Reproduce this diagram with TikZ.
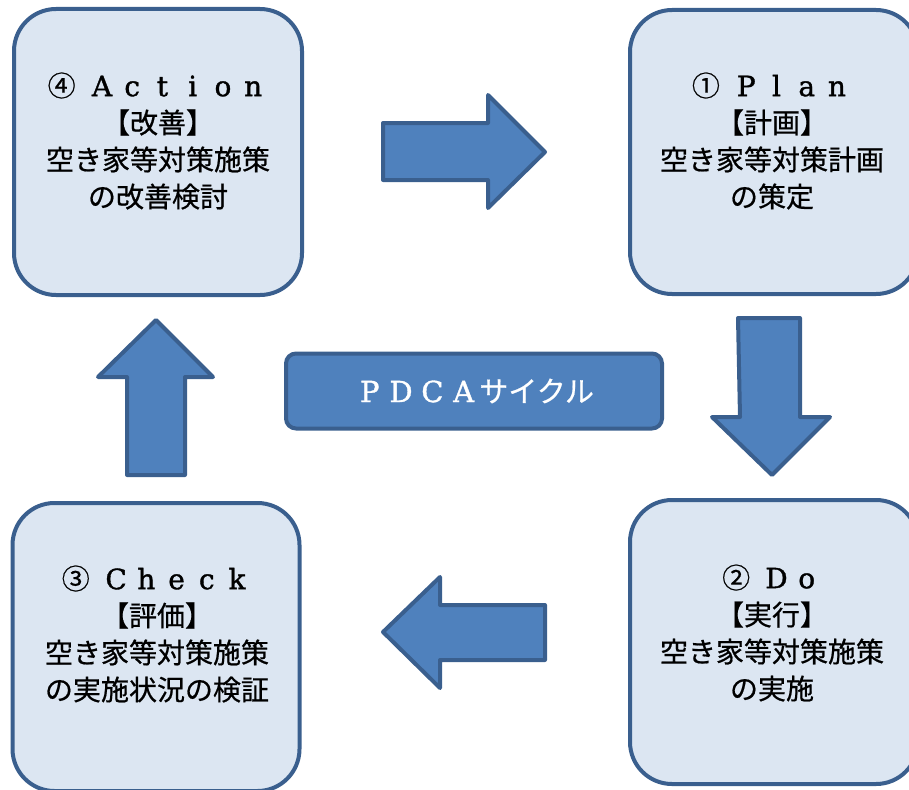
\documentclass[tikz,border=0pt]{standalone}
\usepackage{fontspec}
\setmainfont{DejaVu Serif}[FakeBold=1.2]
\newfontfamily\jp{Noto Sans CJK JP}[FakeBold=0.6]
\definecolor{boxfill}{HTML}{DCE6F2}
\definecolor{boxline}{HTML}{3A5F8E}
\definecolor{arrfill}{HTML}{4F81BD}
\newcommand{\fwl}[1]{\makebox[1.08em][c]{#1}}
\tikzset{
  pbox/.style={draw=boxline, fill=boxfill, line width=4pt, rounded corners=42pt, inner sep=0pt},
  ptext/.style={font=\jp\fontsize{28}{37}\selectfont, align=center, inner sep=0pt, text=black},
  barrow/.style={draw=boxline, fill=arrfill, line width=4pt, line join=round},
}
\begin{document}
\begin{tikzpicture}[x=1pt,y=-1pt]
\useasboundingbox (0,0) rectangle (909,789);
% boxes
\node[pbox, minimum width=288pt, minimum height=286pt] (act) at (158,152) {};
\node[pbox, minimum width=288pt, minimum height=284pt] (plan) at (774,152) {};
\node[pbox, minimum width=287pt, minimum height=288pt] (chk) at (156,647) {};
\node[pbox, minimum width=288pt, minimum height=284pt] (do) at (774,642) {};
% texts
\node[ptext] (tact) at (158,141) {④\hspace{0.4em}{\rmfamily\fwl{A}\fwl{c}\fwl{t}\fwl{i}\fwl{o}\fwl{n}}\\【改善】\\空き家等対策施策\\の改善検討};
\node[ptext] (tplan) at (772,141) {①\hspace{0.4em}{\rmfamily\fwl{P}\fwl{l}\fwl{a}\fwl{n}}\\【計画】\\空き家等対策計画\\の策定};
\node[ptext] (tchk) at (157,634) {③\hspace{0.4em}{\rmfamily\fwl{C}\fwl{h}\fwl{e}\fwl{c}\fwl{k}}\\【評価】\\空き家等対策施策\\の実施状況の検証};
\node[ptext] (tdo) at (772,633) {②\hspace{0.4em}{\rmfamily\fwl{D}\fwl{o}}\\【実行】\\空き家等対策施策\\の実施};
% center label
\node[draw=boxline, fill=arrfill, line width=4pt, rounded corners=10pt,
      minimum width=376pt, minimum height=75pt, inner sep=0pt,
      text=white, font=\fontsize{29}{34}\selectfont] (pdca) at (474,391)
      {\fwl{P}\fwl{D}\fwl{C}\fwl{A}{\jp サイクル}};
% block arrows
\draw[barrow] (383,123) -- (488,123) -- (488,95) -- (545,152) -- (488,208) -- (488,180) -- (383,180) -- cycle;
\draw[barrow] (738,318) -- (800,318) -- (800,417) -- (830,417) -- (772,475) -- (712,417) -- (740,417) -- cycle;
\draw[barrow] (545,605) -- (440,605) -- (440,577) -- (383,632) -- (440,688) -- (440,660) -- (545,660) -- cycle;
\draw[barrow] (127,475) -- (127,377) -- (98,377) -- (156,320) -- (213,377) -- (185,377) -- (185,475) -- cycle;
\end{tikzpicture}
\end{document}
